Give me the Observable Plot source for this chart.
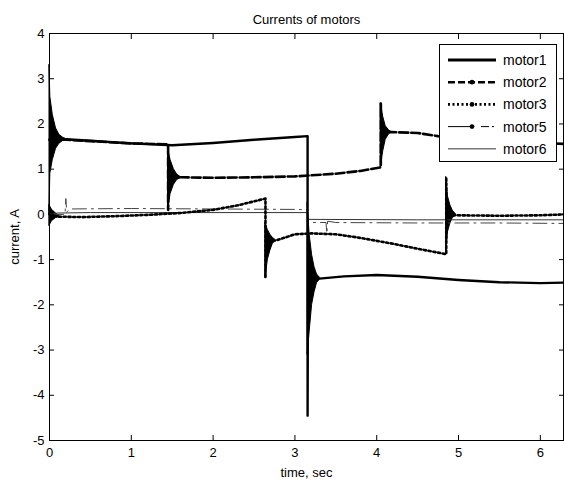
<!DOCTYPE html>
<html>
<head>
<meta charset="utf-8">
<script src="https://cdn.jsdelivr.net/npm/d3@7"></script>
<script src="https://cdn.jsdelivr.net/npm/@observablehq/plot@0.6"></script>
<style>
  html, body { margin: 0; padding: 0; background: #fff; }
  #chart { position: relative; width: 564px; height: 484px; font-family: Arial, "Liberation Sans", sans-serif; }
  #legend { position: absolute; left: 439px; top: 44px; width: 116px; height: 116px; background: #fff; border: 1px solid #000; }
</style>
</head>
<body>
<div id="chart"></div>
<script>
// Simulated motor currents, [time s, current A]
const motor1 = [[0, 1.65], [0.2, 1.66], [0.5, 1.63], [1.0, 1.57], [1.5, 1.53], [2.0, 1.58], [2.5, 1.65],
  [3.0, 1.71], [3.155, 1.73], [3.155, -4.45], [3.16, -1.42], [3.3, -1.42], [3.6, -1.37], [4.0, -1.34],
  [4.5, -1.38], [5.0, -1.45], [5.5, -1.5], [6.0, -1.52], [6.2832, -1.51]];
const motor2 = [[0, 1.65], [0.2, 1.65], [0.5, 1.62], [1.0, 1.57], [1.45, 1.55], [1.45, 0.1], [1.455, 0.82],
  [1.6, 0.82], [2.0, 0.81], [2.5, 0.82], [3.0, 0.84], [3.5, 0.9], [3.8, 0.96], [4.05, 1.04], [4.05, 2.45],
  [4.055, 1.82], [4.18, 1.82], [4.5, 1.8], [4.75, 1.73], [5.0, 1.68], [5.5, 1.62], [6.0, 1.58], [6.2832, 1.56]];
const motor3 = [[0, 0.0], [0.1, -0.05], [0.4, -0.06], [0.8, -0.04], [1.2, -0.01], [1.6, 0.03], [2.0, 0.1],
  [2.3, 0.2], [2.64, 0.35], [2.64, -1.4], [2.645, -0.58], [2.76, -0.58], [2.9, -0.5], [3.0, -0.44],
  [3.2, -0.42], [3.5, -0.44], [3.8, -0.52], [4.2, -0.65], [4.5, -0.76], [4.85, -0.88], [4.85, 0.82],
  [4.855, -0.02], [4.97, -0.02], [5.5, -0.03], [6.0, -0.02], [6.2832, 0.0]];
const motor5 = [[0, 0.0], [0.19, 0.0], [0.2, 0.35], [0.21, 0.05], [0.25, 0.12], [1.0, 0.13], [2.0, 0.12],
  [3.0, 0.11], [3.15, 0.1], [3.16, -0.18], [3.38, -0.18], [3.39, -0.42], [3.4, -0.15], [3.5, -0.18],
  [4.5, -0.19], [5.5, -0.19], [6.2832, -0.2]];
const motor6 = [[0, 0.0], [0.1, 0.03], [0.5, 0.04], [2.0, 0.04], [3.15, 0.04], [3.16, -0.11], [4.5, -0.12],
  [6.2832, -0.12]];

// Oscillation envelopes after each switching event, [time s, low A, high A]
const ring1 = [[0, 0.0, 3.3], [0.01, 0.9, 2.6], [0.04, 1.2, 2.2], [0.08, 1.45, 1.9], [0.12, 1.56, 1.76],
  [0.17, 1.63, 1.69], [0.2, 1.65, 1.67]];
const ring1b = [[3.155, -3.1, 0.25], [3.18, -2.6, -0.45], [3.21, -2.0, -0.9], [3.24, -1.72, -1.17],
  [3.27, -1.52, -1.33], [3.31, -1.43, -1.41]];
const ring2 = [[1.45, 0.1, 1.45], [1.48, 0.45, 1.2], [1.52, 0.65, 1.0], [1.56, 0.76, 0.88], [1.6, 0.8, 0.83]];
const ring2b = [[4.05, 1.05, 2.45], [4.08, 1.4, 2.15], [4.11, 1.65, 1.95], [4.15, 1.77, 1.86], [4.18, 1.81, 1.82]];
const ring3 = [[0, -0.25, 0.2], [0.03, -0.15, 0.1], [0.08, -0.08, 0.02], [0.12, -0.06, -0.03]];
const ring3b = [[2.64, -1.4, -0.2], [2.67, -1.0, -0.35], [2.7, -0.8, -0.45], [2.73, -0.65, -0.52], [2.76, -0.6, -0.56]];
const ring3c = [[4.85, -0.88, 0.82], [4.87, -0.4, 0.4], [4.9, -0.2, 0.2], [4.93, -0.08, 0.08], [4.97, -0.03, 0.0]];

const xTicks = [0, 1, 2, 3, 4, 5, 6];
const yTicks = [-5, -4, -3, -2, -1, 0, 1, 2, 3, 4];
const legendNames = ["motor1", "motor2", "motor3", "motor5", "motor6"];

const band = (data) => Plot.areaY(data, {
  x: d => d[0], y1: d => d[1], y2: d => d[2],
  fill: "#000", stroke: "#000", strokeWidth: 1, strokeLinejoin: "round"
});
const blank = () => "";
const plain = d => String(d);

const plot = Plot.plot({
  width: 564,
  height: 484,
  marginTop: 33,
  marginBottom: 44,
  marginLeft: 49,
  marginRight: 1,
  style: {fontFamily: "Arial, 'Liberation Sans', sans-serif", fontSize: "13px", background: "#fff", color: "#000"},
  x: {domain: [0, 6.2832]},
  y: {domain: [-5, 4]},
  marks: [
    band(ring1), band(ring1b), band(ring2), band(ring2b), band(ring3), band(ring3b), band(ring3c),
    Plot.line(motor6, {stroke: "#333", strokeWidth: 1}),
    Plot.line(motor5, {stroke: "#444", strokeWidth: 1, strokeDasharray: "14,5,2,5"}),
    Plot.line(motor3, {stroke: "#000", strokeWidth: 2.6, strokeDasharray: "2.2,2.6"}),
    Plot.line(motor2, {stroke: "#000", strokeWidth: 2.6, strokeDasharray: "9,3"}),
    Plot.line(motor1, {stroke: "#000", strokeWidth: 2.4}),
    // labelled axes
    Plot.axisX({ticks: xTicks, tickFormat: plain, tickSize: 0, tickPadding: 7, label: "time, sec", labelAnchor: "center", labelArrow: "none", labelOffset: 36}),
    Plot.axisY({ticks: yTicks, tickFormat: plain, tickSize: 0, tickPadding: 5, label: "current, A", labelAnchor: "center", labelArrow: "none", labelOffset: 40}),
    // inward ticks on all four sides
    Plot.axisX({ticks: xTicks, tickSize: -5, tickFormat: blank, label: null}),
    Plot.axisX({ticks: xTicks, anchor: "top", tickSize: -5, tickFormat: blank, label: null}),
    Plot.axisY({ticks: yTicks, tickSize: -5, tickFormat: blank, label: null}),
    Plot.axisY({ticks: yTicks, anchor: "right", tickSize: -5, tickFormat: blank, label: null}),
    Plot.frame({stroke: "#000", strokeWidth: 1}),
    Plot.text(["Currents of motors"], {frameAnchor: "top", dy: -19, fontSize: 13})
  ]
});
const chart = document.getElementById("chart");
chart.appendChild(plot);

// legend box in the upper right corner of the axes
const legend = document.createElement("div");
legend.id = "legend";
const styles = [
  {w: 3, dash: null, color: "#000", dot: false},
  {w: 2.6, dash: "7,3", color: "#000", dot: true},
  {w: 2.6, dash: "2,2.5", color: "#000", dot: true},
  {w: 1, dash: "26,7,8,3,2", color: "#000", dot: true},
  {w: 1.5, dash: null, color: "#777", dot: false}
];
const ns = "http://www.w3.org/2000/svg";
const svg = document.createElementNS(ns, "svg");
svg.setAttribute("width", 116);
svg.setAttribute("height", 116);
legendNames.forEach((name, i) => {
  const y = 15 + i * 22.2;
  const s = styles[i];
  const ln = document.createElementNS(ns, "line");
  ln.setAttribute("x1", 8); ln.setAttribute("x2", 56);
  ln.setAttribute("y1", y); ln.setAttribute("y2", y);
  ln.setAttribute("stroke", s.color);
  ln.setAttribute("stroke-width", s.w);
  if (s.dash) ln.setAttribute("stroke-dasharray", s.dash);
  svg.appendChild(ln);
  if (s.dot) {
    const c = document.createElementNS(ns, "circle");
    c.setAttribute("cx", 32); c.setAttribute("cy", y); c.setAttribute("r", 2.4);
    c.setAttribute("fill", "#000");
    svg.appendChild(c);
  }
  const t = document.createElementNS(ns, "text");
  t.setAttribute("x", 63); t.setAttribute("y", y);
  t.setAttribute("dy", "0.35em");
  t.setAttribute("font-size", 14);
  t.setAttribute("font-family", "Arial, 'Liberation Sans', sans-serif");
  t.textContent = name;
  svg.appendChild(t);
});
legend.appendChild(svg);
chart.appendChild(legend);
</script>
</body>
</html>
